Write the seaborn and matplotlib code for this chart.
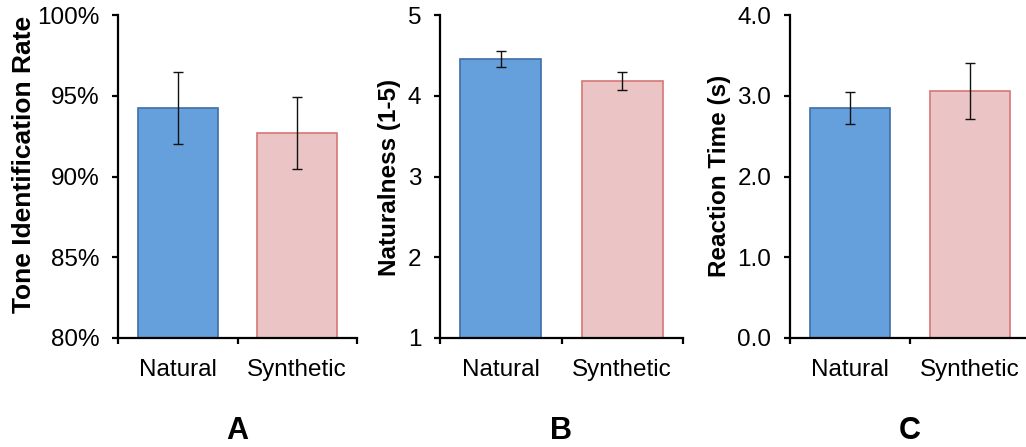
import matplotlib
matplotlib.use("Agg")
import matplotlib.pyplot as plt
import seaborn as sns
import pandas as pd
from matplotlib.ticker import FuncFormatter, FixedLocator

sns.set_style("white")
plt.rcParams['font.family'] = ['Liberation Sans', 'DejaVu Sans']
plt.rcParams['text.color'] = 'black'
plt.rcParams['axes.labelcolor'] = 'black'
plt.rcParams['xtick.color'] = 'black'
plt.rcParams['ytick.color'] = 'black'

categories = ["Natural", "Synthetic"]
tone_rate = [0.9425, 0.927]
tone_err = [0.0225, 0.0224]
naturalness = [4.455, 4.183]
naturalness_err = [0.103, 0.11]
reaction_time = [2.848, 3.055]
reaction_err = [0.2, 0.345]

fill_colors = ["#66a0dc", "#ebc5c5"]
edge_colors = ["#3e6ea6", "#d67676"]

W, H = 1026, 447
fig = plt.figure(figsize=(W / 100, H / 100), dpi=100)


def make_axes(left, width, top=15, bottom=338):
    return fig.add_axes([left / W, (H - bottom) / H, width / W, (bottom - top) / H])


panels = [
    dict(left=118, width=239, vals=tone_rate, err=tone_err, ylim=(0.80, 1.00),
         yticks=[0.80, 0.85, 0.90, 0.95, 1.00], fmt=lambda v, p: f"{v*100:.0f}%",
         ylabel="Tone Identification Rate", lsize=19, lx=-0.343, ly=0.536, letter="A"),
    dict(left=440, width=243, vals=naturalness, err=naturalness_err, ylim=(1, 5),
         yticks=[1, 2, 3, 4, 5], fmt=lambda v, p: f"{v:.0f}",
         ylabel="Naturalness (1-5)", lsize=17.5, lx=-0.16, ly=0.498, letter="B"),
    dict(left=790, width=240, vals=reaction_time, err=reaction_err, ylim=(0, 4),
         yticks=[0, 1, 2, 3, 4], fmt=lambda v, p: f"{v:.1f}",
         ylabel="Reaction Time (s)", lsize=17.5, lx=-0.246, ly=0.503, letter="C"),
]

for p in panels:
    ax = make_axes(p["left"], p["width"])
    df = pd.DataFrame({"cond": categories, "val": p["vals"]})
    sns.barplot(data=df, x="cond", y="val", hue="cond", palette=fill_colors,
                saturation=1, width=0.67, legend=False, ax=ax, linewidth=1.2)
    for patch, ec in zip(ax.patches, edge_colors):
        patch.set_edgecolor(ec)
    ax.errorbar(range(len(categories)), p["vals"], yerr=p["err"], fmt="none",
                ecolor="#111111", elinewidth=1.0, capsize=3.5, capthick=1.0, zorder=5)
    ax.set_ylim(*p["ylim"])
    ax.set_xlim(-0.5, 1.5)
    ax.yaxis.set_major_locator(FixedLocator(p["yticks"]))
    ax.yaxis.set_major_formatter(FuncFormatter(p["fmt"]))
    ax.set_xlabel("")
    ax.set_ylabel(p["ylabel"], fontsize=p["lsize"], fontweight="bold")
    ax.yaxis.set_label_coords(p["lx"], p["ly"])
    for s in ["top", "right"]:
        ax.spines[s].set_visible(False)
    for s in ["left", "bottom"]:
        ax.spines[s].set_linewidth(1.6)
        ax.spines[s].set_color("black")
    ax.tick_params(axis="y", which="major", direction="out", length=4.5, width=1.6,
                   labelsize=17.5, pad=9, left=True, colors="black")
    ax.tick_params(axis="x", which="major", length=0, labelsize=17.5, pad=15,
                   colors="black")
    ax.set_xticks([0, 1])
    ax.set_xticklabels(categories)
    ax.set_xticks([-0.5, 0.5, 1.5], minor=True)
    ax.tick_params(axis="x", which="minor", direction="out", length=4.5, width=1.6,
                   bottom=True, colors="black")
    cx = (p["left"] + p["width"] / 2) / W
    fig.text(cx, 16 / H, p["letter"], ha="center", va="center", fontsize=22,
             fontweight="bold", color="black")

fig.savefig("out.png", dpi=100)
